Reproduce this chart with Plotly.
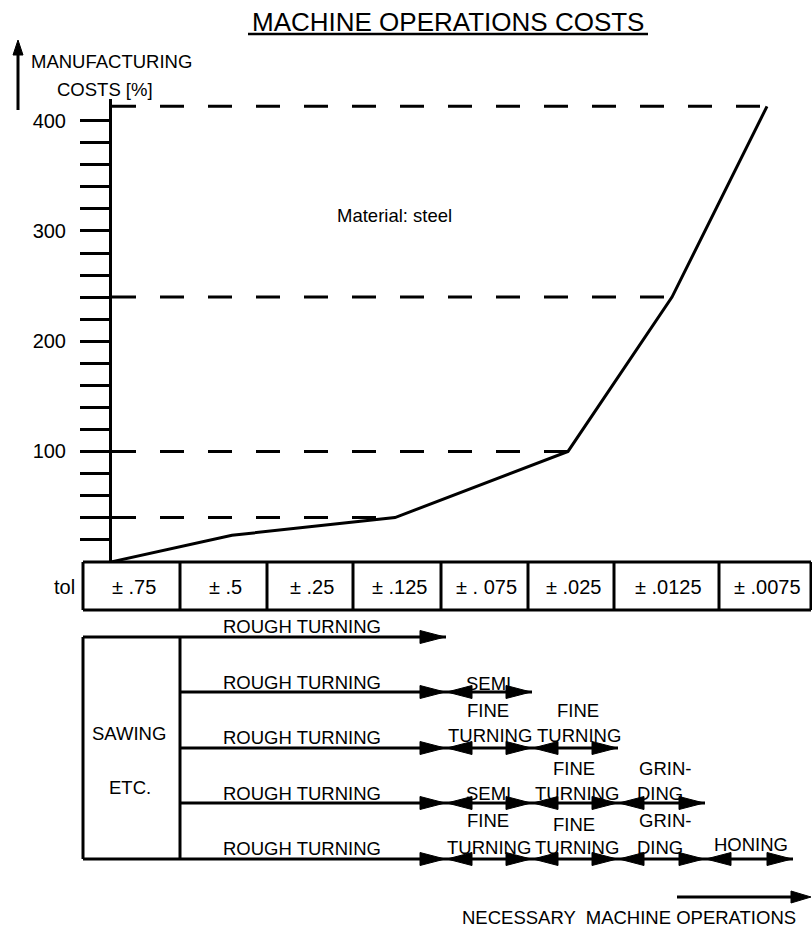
import plotly.graph_objects as go

# ---------------- data ----------------
curve_pos = [112, 232, 395, 568, 672, 767]          # horizontal drawing position of curve points
curve_cost = [0, 24, 40, 100, 240, 413]              # manufacturing cost [%]
dashed_idx = [2, 3, 4, 5]                             # curve points with dashed reference lines

ytick_vals = list(range(20, 420, 20))
ytick_text = [str(v) if v % 100 == 0 else "" for v in ytick_vals]

tol_labels = ["± .75", "± .5", "± .25", "± .125", "± . 075", "± .025", "± .0125", "± .0075"]

operations = ["ROUGH TURNING", "SEMI FINE TURNING", "FINE TURNING", "GRINDING", "HONING"]
ops_per_row = [1, 2, 3, 4, 5]
op_end = [446, 532, 618, 705, 793]

# ---------------- layout geometry (px) ----------------
W, H = 812, 931
AX_X = 112
Y0 = 561.7
PX_PER_UNIT = 1.1025
AX_TOP = 99
FONT = "Liberation Sans"

def px(x):
    return x / W

def py(y):
    return 1 - y / H

col_edges = [83, 180, 267, 353, 441, 528, 614, 719, 811]
tol_top, tol_bot = 562, 610
row_y = [637, 692, 748, 803, 859]
row_start = [83, 180, 180, 180, 83]

fig = go.Figure()

# curve
fig.add_trace(go.Scatter(x=curve_pos, y=curve_cost, mode="lines",
                         line=dict(color="black", width=3), hoverinfo="skip"))
# dashed reference lines
for i in dashed_idx:
    fig.add_trace(go.Scatter(x=[AX_X, curve_pos[i]], y=[curve_cost[i]] * 2, mode="lines",
                             line=dict(color="black", width=3, dash="24px,24px"),
                             hoverinfo="skip"))

shapes = []
annotations = []

def line(x0, y0, x1, y1, w=3):
    shapes.append(dict(type="line", xref="paper", yref="paper",
                       x0=px(x0), y0=py(y0), x1=px(x1), y1=py(y1),
                       line=dict(color="black", width=w)))

def head(tip_x, tip_y, direction, length=25, half=6.5):
    bx = tip_x - direction * length
    path = "M {} {} L {} {} L {} {} Z".format(
        px(tip_x), py(tip_y), px(bx), py(tip_y - half), px(bx), py(tip_y + half))
    shapes.append(dict(type="path", xref="paper", yref="paper", path=path,
                       fillcolor="black", line=dict(color="black", width=1)))

def vhead(tip_x, tip_y, length=15, half=5):
    path = "M {} {} L {} {} L {} {} Z".format(
        px(tip_x), py(tip_y), px(tip_x - half), py(tip_y + length), px(tip_x + half), py(tip_y + length))
    shapes.append(dict(type="path", xref="paper", yref="paper", path=path,
                       fillcolor="black", line=dict(color="black", width=1)))

def text(t, x, y, size=18.5, xanchor="center"):
    annotations.append(dict(text=t, x=px(x), y=py(y), xref="paper", yref="paper",
                            xanchor=xanchor, yanchor="middle", showarrow=False,
                            font=dict(family=FONT, size=size, color="black")))

# title
text("MACHINE OPERATIONS COSTS", 448, 22, size=26)
line(248, 34, 648, 34, w=2.5)

# y axis arrow and label
line(18, 110, 18, 50)
vhead(18, 40)
text("MANUFACTURING", 29, 62, xanchor="left")
text("COSTS [%]", 55, 89, xanchor="left")
text("Material: steel", 394, 215, size=18.5)

# tolerance table
line(83, tol_top, 811, tol_top)
line(83, tol_bot, 811, tol_bot)
for e in col_edges:
    line(e, tol_top, e, tol_bot)
text("tol", 64, 587, size=20)
for i, lab in enumerate(tol_labels):
    text(lab, (col_edges[i] + col_edges[i + 1]) / 2 + 2, 587, size=20)

# operations box
line(83, row_y[0], 83, row_y[-1])
line(180, row_y[0], 180, row_y[-1])
for r, n in enumerate(ops_per_row):
    y = row_y[r]
    start = row_start[r]
    line(start, y, op_end[n - 1], y)
    for k in range(n):
        head(op_end[k] - 1, y, 1)
        if k > 0:
            head(op_end[k - 1] + 1, y, -1)

# operation labels
for y in [626, 682, 737, 793, 848]:
    text("ROUGH TURNING", 302, y)
op_text = [
    ("SEMI", 488, 683), ("FINE", 488, 710), ("TURNING", 490, 735),
    ("FINE", 578, 710), ("TURNING", 579, 735),
    ("FINE", 574, 768), ("GRIN-", 665, 768),
    ("SEMI", 488, 793), ("TURNING", 577, 793), ("DING", 660, 793),
    ("FINE", 488, 820), ("FINE", 574, 824), ("GRIN-", 665, 820),
    ("TURNING", 489, 847), ("TURNING", 577, 847), ("DING", 660, 847),
    ("HONING", 751, 844),
]
for t, x, y in op_text:
    text(t, x, y)
text("SAWING", 129, 733)
text("ETC.", 130, 787)

# bottom arrow
line(677, 897, 795, 897)
head(811, 897, 1, length=20, half=6)
text("NECESSARY  MACHINE OPERATIONS", 629, 917)

y_top = (Y0 - AX_TOP) / PX_PER_UNIT
fig.update_layout(
    width=W, height=H,
    margin=dict(l=0, r=0, t=0, b=0),
    paper_bgcolor="white", plot_bgcolor="white",
    showlegend=False,
    shapes=shapes, annotations=annotations,
    xaxis=dict(domain=[px(AX_X), 1], range=[AX_X, W], visible=False, fixedrange=True),
    yaxis=dict(domain=[py(Y0), py(AX_TOP)], range=[0, y_top],
               showline=True, linewidth=3, linecolor="black",
               ticks="outside", ticklen=29, tickwidth=3, tickcolor="black",
               tickvals=ytick_vals, ticktext=ytick_text, ticklabelstandoff=10,
               showgrid=False, zeroline=False,
               tickfont=dict(family=FONT, size=20, color="black")),
)

fig.write_html("out.html",
               config={"displayModeBar": False, "staticPlot": True},
               post_script="document.body.style.margin='0';document.body.style.overflow='hidden';")
